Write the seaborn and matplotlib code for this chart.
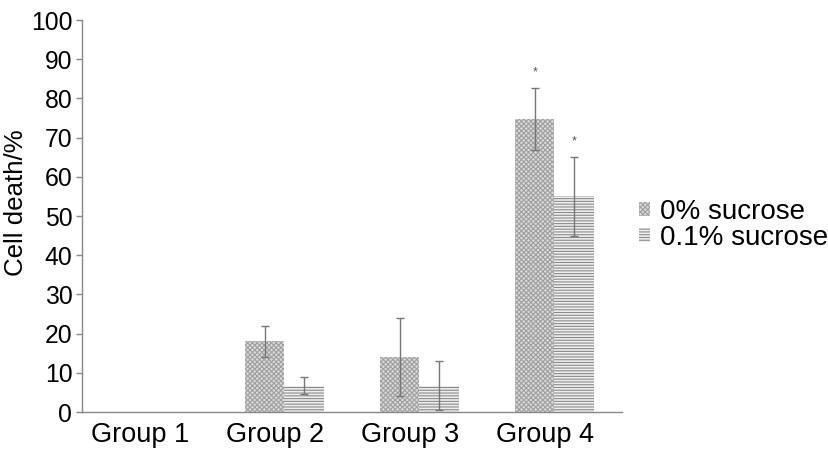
import numpy as np
import pandas as pd
import matplotlib
matplotlib.use('Agg')
import matplotlib.pyplot as plt
import matplotlib.transforms as mtransforms
import seaborn as sns
from matplotlib.patches import Patch

groups = ['Group 1', 'Group 2', 'Group 3', 'Group 4']
series = ['0% sucrose', '0.1% sucrose']
death_0 = [0, 18.0, 14.0, 74.7]
death_01 = [0, 6.7, 6.7, 55.0]
err_0 = [0, 4.0, 10.0, 7.9]
err_01 = [0, 2.2, 6.3, 10.0]
stars_0 = ['', '', '', '*']
stars_01 = ['', '', '', '*']

sns.set_style('white')
plt.rcParams['font.family'] = ['Liberation Sans', 'DejaVu Sans']
plt.rcParams['hatch.linewidth'] = 0.8
plt.rcParams['text.color'] = 'black'
plt.rcParams['axes.labelcolor'] = 'black'
plt.rcParams['xtick.labelcolor'] = 'black'
plt.rcParams['ytick.labelcolor'] = 'black'

df = pd.DataFrame({
    'group': groups * 2,
    'sucrose': [series[0]] * 4 + [series[1]] * 4,
    'death': death_0 + death_01,
})

fig = plt.figure(figsize=(8.29, 4.55), dpi=100)
ax = fig.add_axes([82 / 829, 1 - 412 / 455, 540 / 829, 392 / 455])

sns.barplot(data=df, x='group', y='death', hue='sucrose', order=groups,
            hue_order=series, width=0.58, errorbar=None, ax=ax, legend=False)

styles = [dict(fc='#d9d9d9', ec='#a0a0a0', hatch='xxxxxxx'),
          dict(fc='#efefef', ec='#8a8a8a', hatch='------')]
for cont, st, errs, stars in zip(ax.containers, styles, [err_0, err_01], [stars_0, stars_01]):
    xs, ys = [], []
    for bar, e, s in zip(cont, errs, stars):
        bar.set_facecolor(st['fc'])
        bar.set_edgecolor(st['ec'])
        bar.set_hatch(st['hatch'])
        bar.set_linewidth(0)
        xs.append(bar.get_x() + bar.get_width() / 2)
        ys.append(bar.get_height())
        if s:
            ax.text(xs[-1], bar.get_height() + e + 2.5, s, ha='center', va='bottom',
                    fontsize=9, color='#555555')
    xs, ys, errs = np.array(xs), np.array(ys), np.array(errs)
    m = errs > 0
    ax.errorbar(xs[m], ys[m], yerr=errs[m], fmt='none', ecolor='#777777',
                elinewidth=1, capsize=3, capthick=1)

ax.set_ylim(0, 100)
ax.set_yticks(range(0, 101, 10))
ax.set_xlim(-0.5, 3.5)
ax.set_xlabel('')
ax.set_ylabel('Cell death/%', fontsize=18.6, color='black')
ax.yaxis.set_label_coords(-0.1, 0.535)
ax.tick_params(axis='y', labelsize=17.8, length=4, width=1, color='#888888', left=True, pad=3)
ax.tick_params(axis='x', labelsize=19.5, length=0, pad=7)
shift = mtransforms.ScaledTranslation(-9 / 100, 0, fig.dpi_scale_trans)
for lab in ax.get_xticklabels():
    lab.set_transform(lab.get_transform() + shift)
for sp in ['top', 'right']:
    ax.spines[sp].set_visible(False)
for sp in ['left', 'bottom']:
    ax.spines[sp].set_color('#888888')
    ax.spines[sp].set_linewidth(1)

handles = [Patch(facecolor=st['fc'], edgecolor=st['ec'], hatch=st['hatch'], linewidth=0)
           for st in styles]
fig.legend(handles, series, loc='center left', bbox_to_anchor=(639 / 829, 1 - 225 / 455),
           frameon=False, fontsize=20, handlelength=0.4, handleheight=0.4,
           handletextpad=0.35, labelspacing=0.0, borderpad=0, borderaxespad=0,
           labelcolor='black')

fig.savefig('out.png', dpi=100)
